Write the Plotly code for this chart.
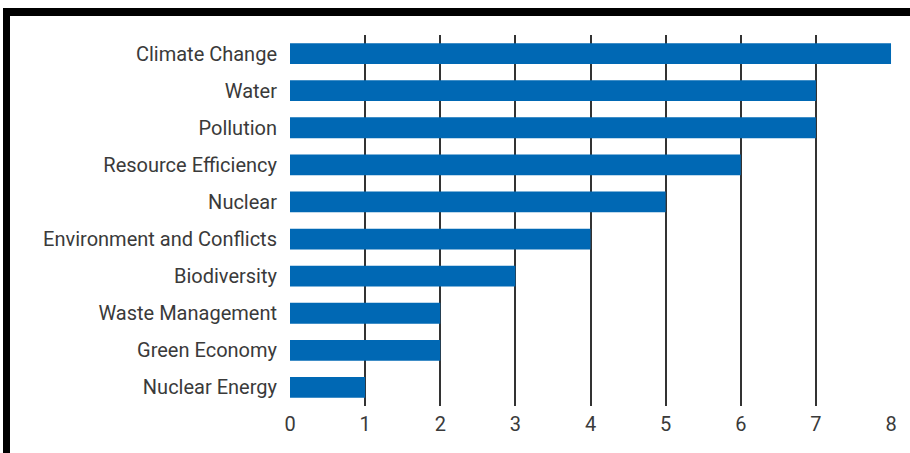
import plotly.graph_objects as go

categories = ["Climate Change", "Water", "Pollution", "Resource Efficiency", "Nuclear",
              "Environment and Conflicts", "Biodiversity", "Waste Management",
              "Green Economy", "Nuclear Energy"]
values = [8, 7, 7, 6, 5, 4, 3, 2, 2, 1]
tick_vals = [0, 1, 2, 3, 4, 5, 6, 7, 8]

W, H = 910, 453
L, R, T, B = 290, 18, 35, 47
pw, ph = W - L - R, H - T - B

def px_x(p):
    return (p - L) / pw

def px_y(p):
    return (H - B - p) / ph

fig = go.Figure(go.Bar(
    x=values, y=categories, orientation="h",
    marker=dict(color="#0068b4", line=dict(width=0)),
    width=0.56,
))

fig.update_layout(
    width=W, height=H,
    margin=dict(l=L, r=R, t=T, b=B),
    paper_bgcolor="white", plot_bgcolor="white",
    font=dict(family="Roboto", size=20, color="#3a3a3a"),
    showlegend=False,
    bargap=0.44,
    shapes=[
        dict(type="rect", xref="paper", yref="paper",
             x0=px_x(3), x1=px_x(910), y0=px_y(16), y1=px_y(8),
             fillcolor="black", line=dict(width=0), layer="above"),
        dict(type="rect", xref="paper", yref="paper",
             x0=px_x(3), x1=px_x(10), y0=px_y(453), y1=px_y(8),
             fillcolor="black", line=dict(width=0), layer="above"),
    ],
)
fig.update_xaxes(range=[0, 8.013], tickvals=tick_vals, showgrid=True,
                 gridcolor="#333333", gridwidth=2, zeroline=False,
                 showline=False, ticks="", fixedrange=True,
                 ticklabelstandoff=4)
fig.update_yaxes(autorange="reversed", showgrid=False, ticks="",
                 ticklabelstandoff=12, showline=False)

fig.write_html("out.html")
